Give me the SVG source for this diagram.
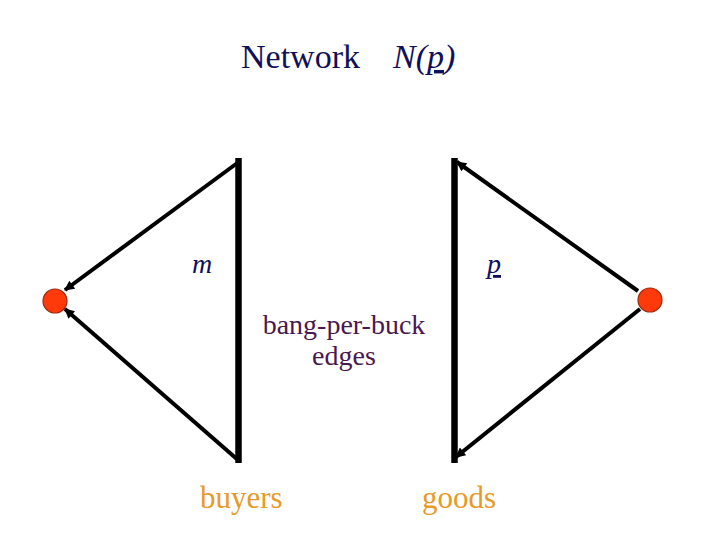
<svg xmlns="http://www.w3.org/2000/svg" width="720" height="540" viewBox="0 0 720 540">
<style>
.bar{stroke:#000;stroke-width:6.5;fill:none}
.edge{stroke:#000;stroke-width:4;fill:none;marker-end:url(#ah)}
.node{fill:#ff3a0a;stroke:#a02a10;stroke-width:1.2}
.serif{font-family:"Liberation Serif","Times New Roman",serif}
.title{fill:#10105a;font-size:34px}
.var{fill:#10105a;font-size:28px;font-style:italic}
.mid{fill:#4a1850;font-size:28px}
.lab{fill:#e89a28;font-size:31px}
</style>
<defs>
<marker id="ah" viewBox="0 0 10 10" refX="9" refY="5" markerWidth="12" markerHeight="10" markerUnits="userSpaceOnUse" orient="auto">
<path d="M0,0 L10,5 L0,10 z" fill="#000"/>
</marker>
</defs>
<rect width="720" height="540" fill="#fff"/>
<g id="title" class="serif">
<text x="241" y="68" class="title">Network</text>
<text x="393" y="68" class="title" font-style="italic">N(<tspan text-decoration="underline">p</tspan>)</text>
</g>
<g id="buyers">
<line class="bar" x1="238.5" y1="158" x2="238.5" y2="463"/>
<text x="200" y="508" class="serif lab">buyers</text>
</g>
<g id="goods">
<line class="bar" x1="454.5" y1="158" x2="454.5" y2="463"/>
<text x="422" y="508" class="serif lab">goods</text>
</g>
<g id="node-m">
<circle class="node" cx="55" cy="301" r="12"/>
<text x="192" y="273" class="serif var">m</text>
</g>
<g id="node-p">
<circle class="node" cx="650" cy="300" r="12"/>
<text x="487" y="273" class="serif var" text-decoration="underline">p</text>
</g>
<g id="edges-label">
<text x="344" y="334" class="serif mid" text-anchor="middle">bang-per-buck</text>
<text x="344" y="365" class="serif mid" text-anchor="middle">edges</text>
</g>
<g id="connectors">
<line class="edge" x1="240" y1="161" x2="65" y2="290"/>
<line class="edge" x1="238" y1="460" x2="65" y2="309"/>
<line class="edge" x1="638" y1="291" x2="457" y2="162"/>
<line class="edge" x1="640" y1="309" x2="456" y2="457"/>
</g>
</svg>
